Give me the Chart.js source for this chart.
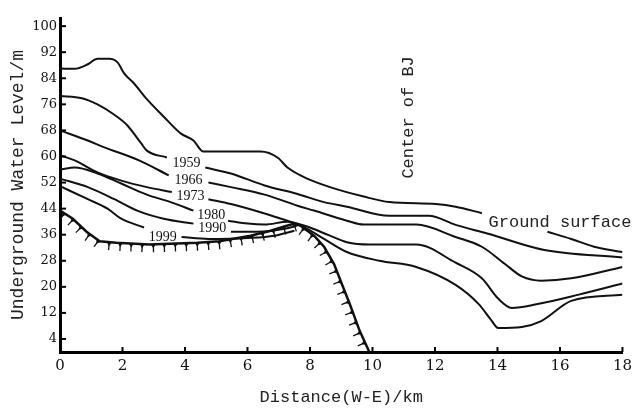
<!DOCTYPE html>
<html>
<head>
<meta charset="utf-8">
<script src="https://cdn.jsdelivr.net/npm/chart.js@4.4.1/dist/chart.umd.min.js"></script>
<style>
  body { margin: 0; background: #fff; }
  canvas { display: block; }
</style>
</head>
<body>
<canvas id="myChart" width="637" height="409"></canvas>
<script>
// distance (km) and water level (m); null = break in the line where a label sits
const groundKm  = [0, 0.47, 0.89, 1.2, 1.58, 1.84, 2.06, 2.37, 2.78, 3.32, 3.86, 4.27, 4.59, 6.42, 6.96, 7.28, 7.91, 8.64, 9.72, 10.54, 12.03, 12.66, 13.5, 14.5, 15.6, 16.36, 17.09, 18];
const groundLvl = [87, 86.9, 88.3, 90, 90, 88.9, 85.4, 82.4, 77.6, 72.2, 67.1, 64.9, 61.5, 61.5, 59.7, 56.6, 53.2, 50.6, 47.7, 46, 45.4, 44.6, 42.6, null, 36.9, 34.7, 32.3, 30.7];

const km1959  = [0, 0.7, 1.2, 1.74, 2.15, 2.6, 2.78, 3.42, 4.05, 4.65, 5.47, 6.55, 7.6, 8.45, 9.18, 10.54, 11.8, 12.66, 13.7, 15.5, 18];
const lvl1959 = [78.6, 77.9, 76, 72.8, 69.6, 64, 61.8, 59.7, null, 56.6, 54.8, 51.1, 48.5, 46, 44.6, 41.8, 41.8, 39, 36.3, 31.3, 29];

const km1966  = [0, 0.89, 1.42, 2.53, 3.48, 4.11, 4.75, 5.47, 6.55, 7.6, 8.13, 9.18, 9.72, 11.4, 12.66, 13.5, 14.24, 14.78, 15.4, 16.36, 18];
const lvl1966 = [68, 64.9, 62.8, 58.8, 54.2, null, 52, 50.6, 48.3, 44.9, 43.4, 40.3, 39.1, 39.1, 35.3, 32.3, 27, 23.2, 21.9, 22.6, 26.1];

const km1973  = [0, 0.47, 1.2, 1.96, 2.78, 3.58, 4.18, 4.75, 5.47, 6.55, 7.37, 7.91, 8.64, 9.18, 9.9, 11.4, 12.66, 13.5, 14.02, 14.46, 15.28, 16.6, 18];
const lvl1973 = [60.4, 58.8, 55.1, 52.6, 50.6, 49.1, null, 46.9, 45.4, 42.5, 40, 38.5, 35.7, 33.7, 33, 33, 27.4, 22.6, 16.4, 13.5, 14.7, 17.6, 21];

const km1980  = [0, 0.47, 1.2, 1.96, 2.78, 3.54, 4.27, 4.84, 5.38, 6.01, 6.55, 7.28, 7.91, 8.45, 9.18, 10.22, 11.4, 12.66, 13.4, 13.8, 14.02, 14.78, 15.4, 16.36, 18];
const lvl1980 = [56, 56.6, 54.8, 51.7, 48.3, 46, 43.4, null, 40.3, 39.4, 39.1, 40, 37.8, 34.7, 30.7, 28, 26.1, 20.6, 14.7, 9.8, 7.4, 7.7, 9.5, 15.7, 17.6];

const km1990  = [0, 0.89, 1.74, 2.47, 3.32, 4.27, 4.87, 5.47, 6.33, 7.28, 7.6];
const lvl1990 = [53.2, 50.6, 46.9, 43.4, 40.9, 39.4, null, 36.9, 36.9, 38, 38.8];

const km1999  = [0, 0.89, 1.52, 1.96, 2.69, 3.29, 3.89, 4.75, 6.01, 6.87, 7.5];
const lvl1999 = [50.9, 46.9, 44, 40.9, 38.2, null, 35.3, 34.7, 35, 35.7, 37.2];

// hatched base line
const baseKm  = [0, 0.41, 0.85, 1.27, 1.8, 2.85, 4.4, 5.1, 6.1, 6.74, 7.18, 7.5, 7.69, 8.13, 8.45, 8.77, 9.08, 9.27, 9.59, 9.9];
const baseLvl = [43.4, 40.9, 36.9, 34, 33.5, 33, 33.5, 34, 35.7, 37.2, 38.5, 39.4, 38.8, 35.7, 32.3, 27, 19.4, 14.8, 6.5, 0];

const yTicks = [4, 12, 20, 28, 36, 44, 52, 60, 68, 76, 84, 92, 100];

// text on the plot: [text, km, level]
const yearLabels = [
    ['1959', 4.05, 57.8],
    ['1966', 4.11, 52.6],
    ['1973', 4.18, 47.7],
    ['1980', 4.84, 41.8],
    ['1990', 4.87, 37.8],
    ['1999', 3.29, 35.3]
];
const groundLabel = ['Ground surface', 16.0, 39.7];
const centerLabel = ['Center of BJ', 11.14, 72];

function pts(xs, ys) {
    return xs.map((x, i) => ({x: x, y: ys[i]}));
}

function line(data, w) {
    return {
        data: data,
        borderColor: '#111',
        borderWidth: w || 2,
        pointRadius: 0,
        cubicInterpolationMode: 'monotone',
        spanGaps: false,
        fill: false
    };
}

const innerTicks = {
    id: 'innerTicks',
    afterDraw(chart) {
        const ctx = chart.ctx;
        const xs = chart.scales.x, ys = chart.scales.y;
        const a = chart.chartArea;
        ctx.save();
        ctx.strokeStyle = '#000';
        ctx.lineWidth = 2;
        yTicks.forEach(v => {
            const y = ys.getPixelForValue(v);
            ctx.beginPath();
            ctx.moveTo(a.left, y);
            ctx.lineTo(a.left + 6, y);
            ctx.stroke();
        });
        for (let k = 2; k <= 18; k += 2) {
            const x = xs.getPixelForValue(k);
            ctx.beginPath();
            ctx.moveTo(x, a.bottom);
            ctx.lineTo(x, a.bottom - 5);
            ctx.stroke();
        }
        ctx.restore();
    }
};

const hatch = {
    id: 'hatch',
    afterDatasetsDraw(chart) {
        const meta = chart.getDatasetMeta(7);
        const p = meta.data.map(e => [e.x, e.y]);
        const ctx = chart.ctx;
        ctx.save();
        ctx.fillStyle = '#111';
        ctx.strokeStyle = '#111';
        ctx.lineWidth = 1.3;
        let carry = 5;
        for (let i = 0; i < p.length - 1; i++) {
            const [x0, y0] = p[i], [x1, y1] = p[i + 1];
            const len = Math.hypot(x1 - x0, y1 - y0);
            if (!len) continue;
            const ux = (x1 - x0) / len, uy = (y1 - y0) / len;
            const nx = -uy, ny = ux;
            let d = carry;
            while (d < len) {
                const px = x0 + ux * d, py = y0 + uy * d;
                ctx.beginPath();
                ctx.moveTo(px - ux * 2.5, py - uy * 2.5);
                ctx.lineTo(px + ux * 2.5, py + uy * 2.5);
                ctx.lineTo(px + nx * 4, py + ny * 4);
                ctx.closePath();
                ctx.fill();
                ctx.beginPath();
                ctx.moveTo(px, py);
                ctx.lineTo(px + nx * 8, py + ny * 8);
                ctx.stroke();
                d += 11;
            }
            carry = d - len;
        }
        ctx.restore();
    }
};

const labels = {
    id: 'labels',
    afterDatasetsDraw(chart) {
        const ctx = chart.ctx;
        const xs = chart.scales.x, ys = chart.scales.y;
        ctx.save();
        ctx.fillStyle = '#111';
        ctx.textAlign = 'center';
        ctx.textBaseline = 'middle';
        ctx.font = '14px "Liberation Serif"';
        yearLabels.forEach(l => {
            ctx.fillText(l[0], xs.getPixelForValue(l[1]), ys.getPixelForValue(l[2]));
        });
        ctx.fillStyle = '#222';
        ctx.font = '17px "Liberation Mono"';
        ctx.fillText(groundLabel[0], xs.getPixelForValue(groundLabel[1]), ys.getPixelForValue(groundLabel[2]));
        ctx.translate(xs.getPixelForValue(centerLabel[1]), ys.getPixelForValue(centerLabel[2]));
        ctx.rotate(-Math.PI / 2);
        ctx.fillText(centerLabel[0], 0, 0);
        ctx.restore();
    }
};

const ctx = document.getElementById('myChart').getContext('2d');
const myChart = new Chart(ctx, {
    type: 'line',
    data: {
        datasets: [
            line(pts(groundKm, groundLvl)),
            line(pts(km1959, lvl1959)),
            line(pts(km1966, lvl1966)),
            line(pts(km1973, lvl1973)),
            line(pts(km1980, lvl1980)),
            line(pts(km1990, lvl1990)),
            line(pts(km1999, lvl1999)),
            Object.assign(line(pts(baseKm, baseLvl), 2.5), {cubicInterpolationMode: 'default', tension: 0})
        ]
    },
    options: {
        responsive: false,
        animation: false,
        layout: {padding: {left: 0, top: 18, right: 9, bottom: 0}},
        plugins: {
            legend: {display: false},
            tooltip: {enabled: false}
        },
        scales: {
            x: {
                type: 'linear',
                min: 0,
                max: 18,
                afterFit: s => { s.height = 57; },
                grid: {drawOnChartArea: false, drawTicks: false},
                border: {color: '#000', width: 3},
                ticks: {
                    stepSize: 2,
                    padding: 5,
                    color: '#111',
                    font: {family: 'DejaVu Serif', size: 15}
                },
                title: {
                    display: true,
                    text: 'Distance(W-E)/km',
                    color: '#222',
                    padding: {top: 0, bottom: 1},
                    font: {family: 'Liberation Mono', size: 17}
                }
            },
            y: {
                min: 0,
                max: 102.5,
                afterBuildTicks: s => { s.ticks = yTicks.map(v => ({value: v})); },
                afterFit: s => { s.width = 60; },
                grid: {drawOnChartArea: false, drawTicks: false},
                border: {color: '#000', width: 3},
                ticks: {
                    padding: 3,
                    color: '#111',
                    font: {family: 'DejaVu Serif', size: 13}
                },
                title: {
                    display: true,
                    text: 'Underground Water Level/m',
                    color: '#222',
                    padding: {top: 7, bottom: 0},
                    font: {family: 'Liberation Mono', size: 18}
                }
            }
        }
    },
    plugins: [hatch, labels, innerTicks]
});
</script>
</body>
</html>
